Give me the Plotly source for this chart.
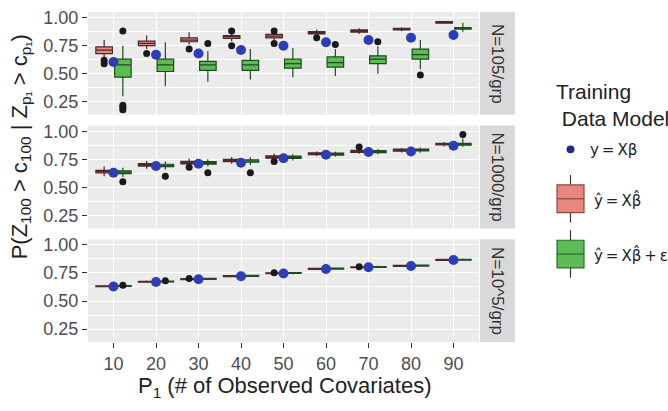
import plotly.graph_objects as go
from plotly.subplots import make_subplots

# ---- data -------------------------------------------------------------
P1 = [10, 20, 30, 40, 50, 60, 70, 80, 90]
P1_LABELS = ["10", "20", "30", "40", "50", "60", "70", "80", "90"]
Y_TICKS = [0.25, 0.50, 0.75, 1.00]
Y_TICK_LABELS = ["0.25", "0.50", "0.75", "1.00"]
STRIPS = ["N=105/grp", "N=1000/grp", "N=10^5/grp"]

# N=105/grp
truth_105 = [0.605, 0.670, 0.680, 0.712, 0.750, 0.780, 0.800, 0.820, 0.845]
fit_105_q1 = [0.680, 0.750, 0.785, 0.815, 0.820, 0.855, 0.870, 0.890, 0.950]
fit_105_med = [0.710, 0.770, 0.800, 0.830, 0.835, 0.865, 0.880, 0.897, 0.958]
fit_105_q3 = [0.740, 0.790, 0.820, 0.840, 0.850, 0.875, 0.890, 0.905, 0.965]
fit_105_lo = [0.640, 0.720, 0.760, 0.790, 0.800, 0.835, 0.855, 0.878, 0.945]
fit_105_hi = [0.800, 0.840, 0.870, 0.870, 0.875, 0.895, 0.905, 0.915, 0.970]
fit_105_out = [[0.590, 0.620], [0.680], [0.720], [0.880, 0.750], [0.880, 0.770],
               [0.820], [], [], []]
noise_105_q1 = [0.470, 0.520, 0.530, 0.530, 0.550, 0.560, 0.590, 0.630, 0.898]
noise_105_med = [0.580, 0.580, 0.580, 0.580, 0.590, 0.600, 0.630, 0.670, 0.905]
noise_105_q3 = [0.630, 0.630, 0.610, 0.620, 0.630, 0.650, 0.660, 0.720, 0.912]
noise_105_lo = [0.300, 0.390, 0.430, 0.450, 0.470, 0.480, 0.500, 0.540, 0.875]
noise_105_hi = [0.750, 0.780, 0.700, 0.720, 0.730, 0.720, 0.745, 0.800, 0.955]
noise_105_out = [[0.880, 0.220, 0.200, 0.180], [], [0.770], [], [], [0.760],
                 [0.785], [0.490], []]

# N=1000/grp
truth_1000 = [0.630, 0.690, 0.710, 0.720, 0.760, 0.790, 0.815, 0.820, 0.870]
fit_1000_q1 = [0.628, 0.690, 0.710, 0.730, 0.760, 0.792, 0.812, 0.822, 0.878]
fit_1000_med = [0.640, 0.700, 0.720, 0.740, 0.770, 0.800, 0.820, 0.830, 0.885]
fit_1000_q3 = [0.652, 0.712, 0.732, 0.750, 0.780, 0.808, 0.830, 0.840, 0.893]
fit_1000_lo = [0.600, 0.665, 0.695, 0.710, 0.745, 0.780, 0.800, 0.810, 0.865]
fit_1000_hi = [0.685, 0.735, 0.755, 0.770, 0.800, 0.820, 0.845, 0.850, 0.905]
fit_1000_out = [[], [], [0.680], [], [0.730], [], [0.860], [], []]
noise_1000_q1 = [0.622, 0.684, 0.707, 0.724, 0.758, 0.788, 0.810, 0.824, 0.876]
noise_1000_med = [0.635, 0.695, 0.718, 0.735, 0.768, 0.797, 0.818, 0.832, 0.884]
noise_1000_q3 = [0.648, 0.706, 0.729, 0.746, 0.778, 0.806, 0.827, 0.841, 0.892]
noise_1000_lo = [0.595, 0.660, 0.688, 0.700, 0.740, 0.775, 0.795, 0.808, 0.862]
noise_1000_hi = [0.675, 0.730, 0.750, 0.768, 0.795, 0.818, 0.840, 0.855, 0.935]
noise_1000_out = [[0.550], [0.600], [0.630], [0.630], [], [], [], [], [0.970]]

# N=10^5/grp
truth_1e5 = [0.630, 0.670, 0.693, 0.720, 0.745, 0.785, 0.800, 0.812, 0.865]
fit_1e5_q1 = [0.628, 0.668, 0.691, 0.718, 0.743, 0.782, 0.797, 0.809, 0.862]
fit_1e5_med = [0.632, 0.672, 0.695, 0.722, 0.747, 0.786, 0.801, 0.813, 0.866]
fit_1e5_q3 = [0.636, 0.676, 0.699, 0.726, 0.751, 0.790, 0.805, 0.817, 0.870]
fit_1e5_lo = [0.622, 0.662, 0.685, 0.712, 0.737, 0.776, 0.791, 0.803, 0.856]
fit_1e5_hi = [0.642, 0.682, 0.705, 0.732, 0.757, 0.796, 0.811, 0.823, 0.876]
fit_1e5_out = [[], [], [0.700], [], [0.752], [], [0.806], [], []]
noise_1e5_q1 = [0.630, 0.670, 0.693, 0.720, 0.745, 0.784, 0.799, 0.811, 0.864]
noise_1e5_med = [0.634, 0.674, 0.697, 0.724, 0.749, 0.788, 0.803, 0.815, 0.868]
noise_1e5_q3 = [0.638, 0.678, 0.701, 0.728, 0.753, 0.792, 0.807, 0.819, 0.872]
noise_1e5_lo = [0.624, 0.664, 0.687, 0.714, 0.739, 0.778, 0.793, 0.805, 0.858]
noise_1e5_hi = [0.644, 0.684, 0.707, 0.734, 0.759, 0.798, 0.813, 0.825, 0.878]
noise_1e5_out = [[0.640], [0.680], [], [], [], [], [], [], []]

# ---- styling ----------------------------------------------------------
FONT = "Liberation Sans, Arial, sans-serif"
MATH_FONT = "DejaVu Sans, Liberation Sans, sans-serif"
PANEL_BG = "#EBEBEB"
STRIP_BG = "#D9D9D9"
TEXT_GREY = "#4D4D4D"
TRUTH_COLOR = "#2F3DB5"
FIT_FILL, FIT_LINE = "#E8877F", "#4A2A2A"
NOISE_FILL, NOISE_LINE = "#5DBB55", "#1F4A1F"
DODGE = 2.2      # half-distance between the two dodged boxes (x units)
BOX_W = 3.9      # box width (x units)
THIN = "\u2009"  # thin space for the math-style legend labels

W, H = 668, 411
L, R, T, B = 88, 515, 8, 342          # plotting region in pixels
PANEL_RIGHT = 479


def px_x(px):
    return (px - L) / (R - L)


def px_y(py):
    return (B - py) / (B - T)


fig = make_subplots(rows=3, cols=1, shared_xaxes=True,
                    vertical_spacing=11 / (B - T))

panels = [
    (truth_105, (fit_105_q1, fit_105_med, fit_105_q3, fit_105_lo, fit_105_hi, fit_105_out),
     (noise_105_q1, noise_105_med, noise_105_q3, noise_105_lo, noise_105_hi, noise_105_out)),
    (truth_1000, (fit_1000_q1, fit_1000_med, fit_1000_q3, fit_1000_lo, fit_1000_hi, fit_1000_out),
     (noise_1000_q1, noise_1000_med, noise_1000_q3, noise_1000_lo, noise_1000_hi, noise_1000_out)),
    (truth_1e5, (fit_1e5_q1, fit_1e5_med, fit_1e5_q3, fit_1e5_lo, fit_1e5_hi, fit_1e5_out),
     (noise_1e5_q1, noise_1e5_med, noise_1e5_q3, noise_1e5_lo, noise_1e5_hi, noise_1e5_out)),
]

for row, (truth, fit, noise) in enumerate(panels, start=1):
    for stats, off, fill, line in ((fit, -DODGE, FIT_FILL, FIT_LINE),
                                   (noise, DODGE, NOISE_FILL, NOISE_LINE)):
        q1, med, q3, lo, hi, out = stats
        xs = [p + off for p in P1]
        fig.add_trace(go.Box(
            x=xs, q1=q1, median=med, q3=q3, lowerfence=lo, upperfence=hi,
            width=BOX_W, whiskerwidth=0, boxpoints=False,
            fillcolor=fill, line=dict(color=line, width=1.2),
            showlegend=False, hoverinfo="skip"), row=row, col=1)
        ox, oy = [], []
        for x, vals in zip(xs, out):
            for v in vals:
                ox.append(x)
                oy.append(v)
        fig.add_trace(go.Scatter(
            x=ox, y=oy, mode="markers",
            marker=dict(color="#1A1A1A", size=7),
            showlegend=False, hoverinfo="skip"), row=row, col=1)
    fig.add_trace(go.Scatter(
        x=P1, y=truth, mode="markers",
        marker=dict(color=TRUTH_COLOR, size=10),
        showlegend=False, hoverinfo="skip"), row=row, col=1)

xdom = [0, (PANEL_RIGHT - L) / (R - L)]
fig.update_xaxes(domain=xdom, range=[4, 96], tickvals=P1, ticktext=P1_LABELS,
                 showgrid=True, gridcolor="white", gridwidth=1.4,
                 zeroline=False, showline=False,
                 ticks="outside", ticklen=5, tickcolor="#333333", tickwidth=1,
                 tickfont=dict(family=FONT, size=18, color=TEXT_GREY))
fig.update_xaxes(showticklabels=False, ticks="", row=1, col=1)
fig.update_xaxes(showticklabels=False, ticks="", row=2, col=1)
fig.update_yaxes(range=[0.135, 1.05], tickvals=Y_TICKS, ticktext=Y_TICK_LABELS,
                 showgrid=True, gridcolor="white", gridwidth=1.4,
                 minor=dict(dtick=0.125, tick0=0, showgrid=True,
                            gridcolor="white", gridwidth=0.7),
                 zeroline=False, showline=False,
                 ticks="outside", ticklen=5, tickcolor="#333333", tickwidth=1,
                 tickfont=dict(family=FONT, size=18, color=TEXT_GREY))

# facet strips on the right
yrefs = ["y domain", "y2 domain", "y3 domain"]
for label, yref in zip(STRIPS, yrefs):
    fig.add_shape(type="rect", xref="paper", yref=yref,
                  x0=px_x(480), x1=px_x(515), y0=0, y1=1,
                  fillcolor=STRIP_BG, line_width=0, layer="below")
    fig.add_annotation(text=label, xref="paper", yref=yref,
                       x=px_x(497.5), y=0.5, xanchor="center", yanchor="middle",
                       showarrow=False, textangle=90,
                       font=dict(family=FONT, size=17, color="#333333"))

# axis titles
fig.add_annotation(text="P<sub>1</sub> (# of Observed Covariates)",
                   xref="paper", yref="paper", x=px_x(284), y=px_y(388),
                   xanchor="center", yanchor="middle", showarrow=False,
                   font=dict(family=FONT, size=22, color="#222222"))
fig.add_annotation(
    text="P(Z<sub>100</sub> > c<sub>100</sub> | Z<sub>p₁</sub> > c<sub>p₁</sub>)",
    xref="paper", yref="paper", x=px_x(21), y=px_y(145), textangle=-90,
    xanchor="center", yanchor="middle", showarrow=False,
    font=dict(family=FONT, size=22, color="#222222"))

# legend
fig.add_annotation(text="Training<br> Data Model", xref="paper", yref="paper",
                   x=px_x(554), y=px_y(75), xanchor="left", yanchor="top",
                   align="left", showarrow=False,
                   font=dict(family=FONT, size=21, color="#222222"))
key_cx = 570.5
fig.add_shape(type="circle", xref="paper", yref="paper",
              x0=px_x(key_cx - 4), x1=px_x(key_cx + 4),
              y0=px_y(147 + 4), y1=px_y(147 - 4),
              fillcolor="#1F2A80", line_width=0)
fig.add_annotation(text=THIN.join(["y", "=", "Xβ"]), xref="paper", yref="paper",
                   x=px_x(588), y=px_y(148), xanchor="left", yanchor="middle",
                   showarrow=False,
                   font=dict(family=MATH_FONT, size=15, color="#222222"))
legend_boxes = (
    (197, FIT_FILL, "#8A4A44", THIN.join(["ŷ", "=", "Xβ̂"])),
    (253, NOISE_FILL, "#2E6B2E", THIN.join(["ŷ", "=", "Xβ̂", "+", "ε"])),
)
for cy, fill, line, label in legend_boxes:
    fig.add_shape(type="line", xref="paper", yref="paper",
                  x0=px_x(key_cx), x1=px_x(key_cx), y0=px_y(cy - 24), y1=px_y(cy + 24),
                  line=dict(color="#333333", width=1.2))
    fig.add_shape(type="rect", xref="paper", yref="paper",
                  x0=px_x(key_cx - 13.5), x1=px_x(key_cx + 13.5),
                  y0=px_y(cy + 14), y1=px_y(cy - 14),
                  fillcolor=fill, line=dict(color=line, width=1.2))
    fig.add_shape(type="line", xref="paper", yref="paper",
                  x0=px_x(key_cx - 13.5), x1=px_x(key_cx + 13.5),
                  y0=px_y(cy), y1=px_y(cy), line=dict(color=line, width=1.2))
    fig.add_annotation(text=label, xref="paper", yref="paper",
                       x=px_x(592), y=px_y(cy + 1), xanchor="left", yanchor="middle",
                       showarrow=False,
                       font=dict(family=MATH_FONT, size=15, color="#222222"))

fig.update_layout(width=W, height=H,
                  margin=dict(l=L, r=W - R, t=T, b=H - B, pad=0),
                  paper_bgcolor="white", plot_bgcolor=PANEL_BG,
                  showlegend=False, font=dict(family=FONT))

fig.write_html("out.html")
